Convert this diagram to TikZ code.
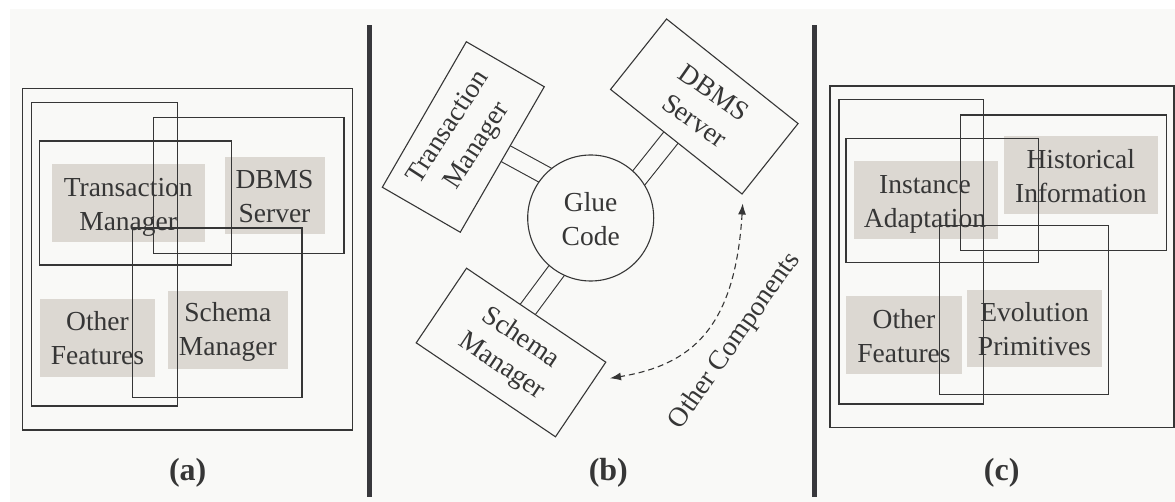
\documentclass[tikz,border=0pt]{standalone}
\usepackage{fontspec}
\setmainfont{Liberation Serif}
\usetikzlibrary{arrows.meta,calc}
\definecolor{paper}{HTML}{F9F9F7}
\definecolor{ink}{HTML}{363636}
\definecolor{boxfill}{HTML}{DCD8D2}
\definecolor{barcol}{HTML}{38383C}
\pgfdeclarelayer{back}
\pgfdeclarelayer{links}
\pgfsetlayers{back,links,main}
\begin{document}
\begin{tikzpicture}[x=1pt,y=-1pt,
  boxline/.style={draw=ink,line width=1.1pt},
  greyfill/.style={fill=boxfill},
  lbl/.style={text=ink,align=center,inner sep=0pt,font=\fontsize{27.5}{34}\selectfont},
  panellabel/.style={text=ink,inner sep=0pt,font=\fontsize{32}{36}\selectfont\bfseries},
  compbox/.style={draw=ink,line width=1.1pt,fill=paper,minimum width=168pt,minimum height=90pt,inner sep=0pt},
  gluelink/.style={draw=ink,line width=1.1pt,double=paper,double distance=17pt},
]
\useasboundingbox (0,0) rectangle (1175,502);

% page background and separator bars
\begin{pgfonlayer}{back}
  \fill[paper] (10,9) rectangle (1175,502);
  \fill[barcol] (367,25) rectangle (372,497);
  \fill[barcol] (812,25) rectangle (817,497);
\end{pgfonlayer}

% ---------------- (a) ----------------
\fill[greyfill] (51.7,164) rectangle (204.7,241.7);
\fill[greyfill] (225,157) rectangle (325,233.7);
\fill[greyfill] (40,299) rectangle (155,376.7);
\fill[greyfill] (168,291) rectangle (287.7,368.7);
\draw[boxline] (22.7,88.3) rectangle (352.7,430);
\draw[boxline] (31.7,102.3) rectangle (177.3,406);
\draw[boxline] (39.3,141) rectangle (231.3,265);
\draw[boxline] (153.3,117.3) rectangle (344,253.3);
\draw[boxline] (132.3,228) rectangle (302,397.3);
\node[lbl] (aTM) at (128.2,207.3) {Transaction\\Manager};
\node[lbl] (aDB) at (274.5,196.3) {DBMS\\Server};
\node[lbl] (aOF) at (97.5,338.3) {Other\\Features};
\node[lbl] (aSM) at (227.8,331.7) {Schema\\Manager};
\node[panellabel] (capA) at (187.7,473) {(a)};

% ---------------- (b) ----------------
\node[draw=ink,line width=1.1pt,fill=paper,circle,minimum size=126pt,inner sep=0pt] (glue) at (590.7,218) {};
\node[lbl] (glueT) at (590.7,219) {Glue\\Code};

\node[compbox,rotate=60] (tm) at (463.3,137) {};
\node[lbl,rotate=57] (tmT) at (463.3,137) {Transaction\\Manager};
\node[compbox,rotate=-38.5] (db) at (704.3,106.5) {};
\node[lbl,rotate=-35] (dbT) at (704.3,106.5) {DBMS\\Server};
\node[compbox,rotate=-34] (sm) at (511,352.5) {};
\node[lbl,rotate=-34] (smT) at (511,352.5) {Schema\\Manager};

\begin{pgfonlayer}{links}
  \draw[gluelink,shorten <=-6pt,shorten >=-10pt] ($(tm.south)!0.08!(tm.south east)$) -- (glue.137);
  \draw[gluelink,shorten <=-6pt,shorten >=-10pt] ($(db.south)!0.08!(db.south west)$) -- (glue.40);
  \draw[gluelink,shorten <=-6pt,shorten >=-10pt] ($(sm.north)!0.12!(sm.north west)$) -- (glue.237);
\end{pgfonlayer}

\coordinate (ocTop) at (742.7,203.5);
\coordinate (ocBot) at (610,378.3);
\draw[draw=ink,line width=1.1pt,dash pattern=on 6pt off 4pt,
      {Latex[length=11pt,width=8pt]}-{Latex[length=11pt,width=8pt]}]
  (ocTop) .. controls (735,330) and (690,365) .. (ocBot);
\node[lbl,rotate=55] (otherC) at (735,341) {Other Components};
\node[panellabel] (capB) at (608.3,473.3) {(b)};

% ---------------- (c) ----------------
\fill[greyfill] (854,161) rectangle (998,238.7);
\fill[greyfill] (1003.7,136) rectangle (1157.7,213.7);
\fill[greyfill] (846,296) rectangle (961.7,373.7);
\fill[greyfill] (967,290) rectangle (1101.7,366.7);
\draw[boxline] (830,86) rectangle (1174,427.7);
\draw[boxline] (839,99.3) rectangle (983.7,404);
\draw[boxline] (846,138.3) rectangle (1038.3,262.7);
\draw[boxline] (960.3,115) rectangle (1166.7,250.7);
\draw[boxline] (939.7,225.7) rectangle (1108.3,394.3);
\node[lbl] (cIA) at (925,204.5) {Instance\\Adaptation};
\node[lbl] (cHI) at (1080.8,175.8) {Historical\\Information};
\node[lbl] (cOF) at (904,336.3) {Other\\Features};
\node[lbl] (cEP) at (1034.5,329.5) {Evolution\\Primitives};
\node[panellabel] (capC) at (1001.7,473.3) {(c)};
\end{tikzpicture}
\end{document}
